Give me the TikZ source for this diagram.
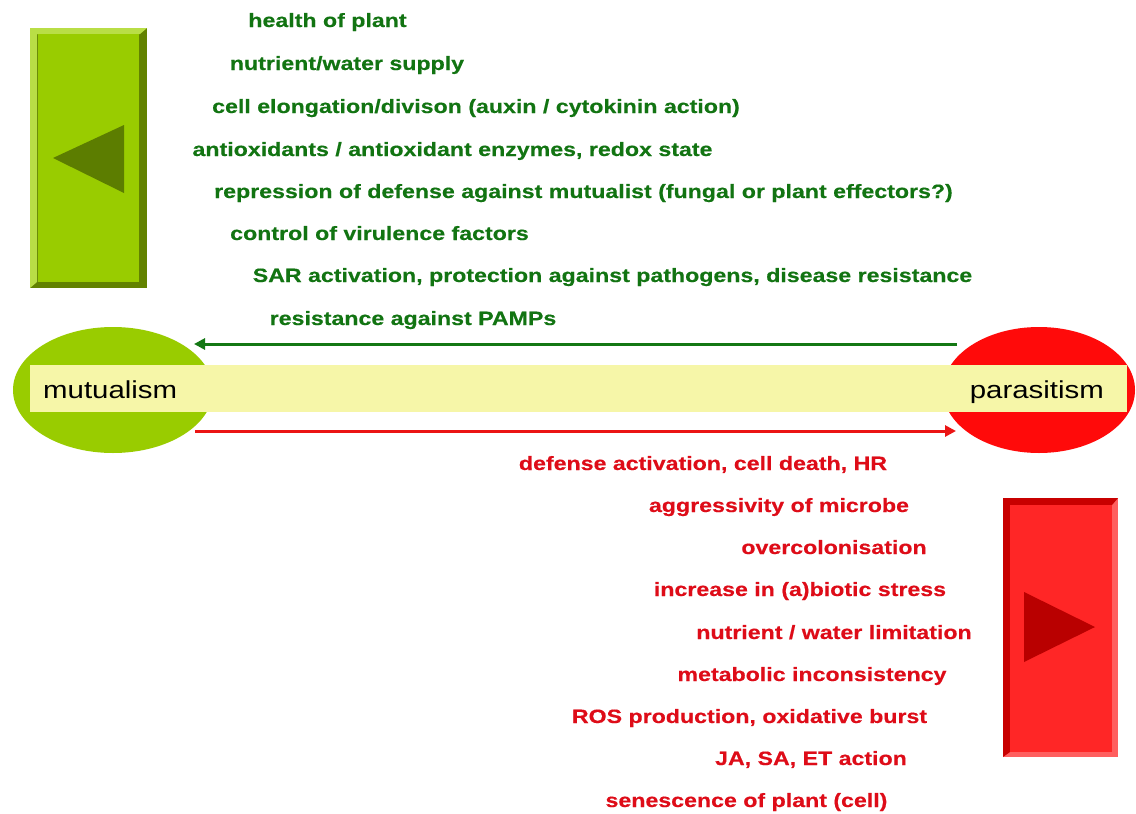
\documentclass[tikz,border=0pt]{standalone}
\usepackage{fontspec}
\setmainfont{Liberation Sans}
\newfontfamily\lab{Liberation Sans}[FakeStretch=1.2, FakeBold=0.4]
\newfontfamily\polefont{Liberation Sans}[FakeStretch=1.2]
\usetikzlibrary{arrows.meta}
\definecolor{gtext}{RGB}{18,116,18}
\definecolor{rtext}{RGB}{222,12,24}
\definecolor{lime}{RGB}{153,204,0}
\definecolor{limedark}{RGB}{98,130,0}
\definecolor{limelight}{RGB}{185,222,70}
\definecolor{limetri}{RGB}{92,125,0}
\definecolor{redface}{RGB}{255,38,38}
\definecolor{reddark}{RGB}{200,0,0}
\definecolor{redlight}{RGB}{255,95,95}
\definecolor{redtri}{RGB}{185,0,0}
\definecolor{ellred}{RGB}{255,10,10}
\definecolor{barfill}{RGB}{246,246,168}
\definecolor{arrgreen}{RGB}{20,120,20}
\definecolor{arrred}{RGB}{235,20,20}
\tikzset{
  gl/.style={font=\lab\bfseries\fontsize{19.3}{21}\selectfont, text=gtext, inner sep=0pt, text height=14pt, text depth=0pt},
  rl/.style={font=\lab\bfseries\fontsize{19.3}{21}\selectfont, text=rtext, inner sep=0pt, text height=14pt, text depth=0pt},
  pole/.style={font=\polefont\fontsize{24.5}{26}\selectfont, text=black, inner sep=0pt, text height=14pt, text depth=0pt},
  conn/.style={line width=3pt},
}
\begin{document}
\begin{tikzpicture}[x=1pt,y=-1pt]
\useasboundingbox[fill=white] (0,0) rectangle (1136,814);
% green box
\fill[limedark] (30,28) rectangle (147,288);
\fill[limelight] (30,28) -- (147,28) -- (140,34) -- (37,34) -- (37,282) -- (30,288) -- cycle;
\node[fill=lime, inner sep=0pt, minimum width=101pt, minimum height=248pt] (gbox) at (88.5,158) {};
\fill[limetri] (53,158) -- (124,125) -- (124,193) -- cycle;
% red box
\fill[redlight] (1003,498) rectangle (1118,757);
\fill[reddark] (1003,498) -- (1118,498) -- (1112,505) -- (1010,505) -- (1010,752) -- (1003,757) -- cycle;
\node[fill=redface, inner sep=0pt, minimum width=102pt, minimum height=247pt] (rbox) at (1061,628.5) {};
\fill[redtri] (1024,592) -- (1024,662) -- (1095,627) -- cycle;
% ellipses
\fill[lime] (113,390) ellipse [x radius=100, y radius=63];
\fill[ellred] (1039,390) ellipse [x radius=96, y radius=63];
\coordinate (mut) at (113,390);
\coordinate (par) at (1039,390);
% bar
\node[fill=barfill, inner sep=0pt, minimum width=1097pt, minimum height=47pt] (bar) at (578.5,388.5) {};
\node[pole, anchor=west] (mutual) at (43,391) {mutualism};
\node[pole, anchor=east] (parasit) at (1104,391) {parasitism};
% arrows
\coordinate (gs) at (957,344);
\coordinate (ge) at (194,344);
\coordinate (rs) at (195,431);
\coordinate (re) at (956,431);
\draw[conn, arrgreen, -{Triangle[length=11pt,width=11pt]}] (gs) -- (ge);
\draw[conn, arrred, -{Triangle[length=11pt,width=11pt]}] (rs) -- (re);
% green labels
\node[gl] (g1) at (327.5,20) {health of plant};
\node[gl] (g2) at (347,63) {nutrient/water supply};
\node[gl] (g3) at (476,106) {cell elongation/divison (auxin / cytokinin action)};
\node[gl] (g4) at (452.5,149) {antioxidants / antioxidant enzymes, redox state};
\node[gl] (g5) at (583.5,191) {repression of defense against mutualist (fungal or plant effectors?)};
\node[gl] (g6) at (379.5,233) {control of virulence factors};
\node[gl] (g7) at (612.5,275) {SAR activation, protection against pathogens, disease resistance};
\node[gl] (g8) at (413,318) {resistance against PAMPs};
% red labels
\node[rl] (r1) at (703,463) {defense activation, cell death, HR};
\node[rl] (r2) at (779,505) {aggressivity of microbe};
\node[rl] (r3) at (834,547) {overcolonisation};
\node[rl] (r4) at (800,589) {increase in (a)biotic stress};
\node[rl] (r5) at (834,632) {nutrient / water limitation};
\node[rl] (r6) at (812,674) {metabolic inconsistency};
\node[rl] (r7) at (749.5,716) {ROS production, oxidative burst};
\node[rl] (r8) at (811,758) {JA, SA, ET action};
\node[rl] (r9) at (746.5,800) {senescence of plant (cell)};
\end{tikzpicture}
\end{document}
